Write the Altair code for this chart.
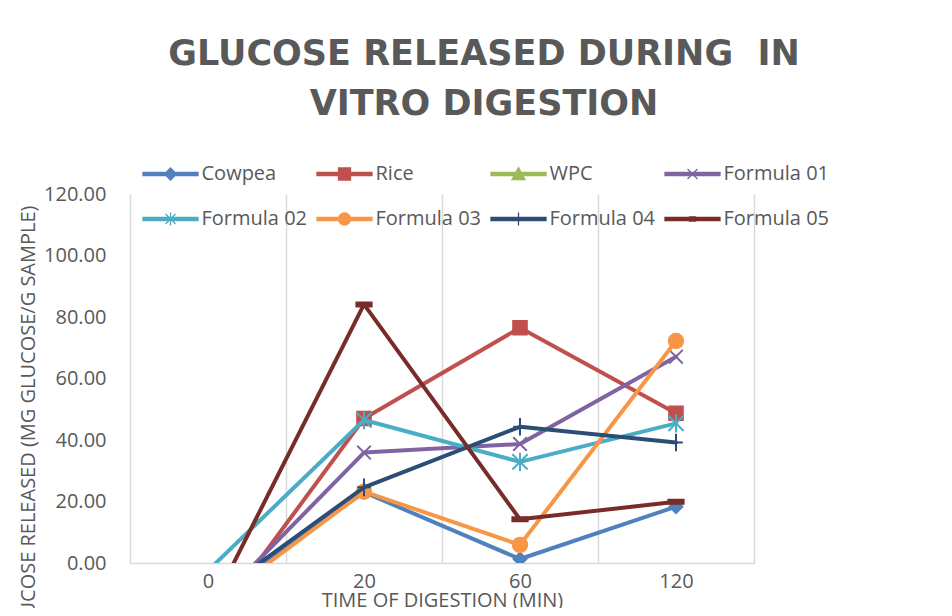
import altair as alt
import pandas as pd

# ---- data ----
times = [0, 20, 60, 120]
series = ["Cowpea", "Rice", "WPC", "Formula 01", "Formula 02", "Formula 03", "Formula 04", "Formula 05"]
cowpea = [-12.5, 23.0, 1.3, 18.3]
rice = [-21.7, 47.0, 76.5, 48.7]
wpc = [None, None, None, None]          # not visible in the chart
formula01 = [-15.8, 35.9, 38.7, 67.1]
formula02 = [-2.5, 46.5, 32.9, 45.4]
formula03 = [-14.7, 23.2, 5.9, 72.2]
formula04 = [-12.2, 24.6, 44.3, 39.2]
formula05 = [-16.6, 84.1, 14.2, 19.9]
y_ticks = [0, 20, 40, 60, 80, 100, 120]

values = [cowpea, rice, wpc, formula01, formula02, formula03, formula04, formula05]

colors = ["#4F81BD", "#C0504D", "#9BBB59", "#8064A2", "#4BACC6", "#F79646", "#2C4D75", "#772C2A"]

# marker shapes (unit paths) for the plotted points
marker_paths = [
    "M0,-0.8L0.8,0L0,0.8L-0.8,0Z",
    "M-0.85,-0.85H0.85V0.85H-0.85Z",
    "M0,-0.95L0.95,0.7H-0.95Z",
    "M-0.85,-0.85L0.85,0.85M-0.85,0.85L0.85,-0.85",
    "M-0.95,-0.95L0.95,0.95M-0.95,0.95L0.95,-0.95M0,-1.15V1.15",
    "M0.9,0A0.9,0.9,0,1,1,-0.9,0A0.9,0.9,0,1,1,0.9,0Z",
    "M0,-1.1V1.1M-0.85,0H0.85",
    "M-0.95,-0.25H0.95V0.25H-0.95Z",
]

# legend symbols: line segment + marker
seg = "M-2.75,-0.15H2.75V0.15H-2.75Z"
legend_paths = [
    seg + "M0,-0.6L0.6,0L0,0.6L-0.6,0Z",
    seg + "M-0.6,-0.6H0.6V0.6H-0.6Z",
    seg + "M0,-0.65L0.65,0.55H-0.65Z",
    seg + "M-0.5,-0.5L0.5,0.5M-0.5,0.5L0.5,-0.5",
    seg + "M-0.5,-0.5L0.5,0.5M-0.5,0.5L0.5,-0.5M0,-0.65V0.65",
    seg + "M0.6,0A0.6,0.6,0,1,1,-0.6,0A0.6,0.6,0,1,1,0.6,0Z",
    seg + "M0,-0.65V0.65",
    seg + "M-0.3,-0.2H0.3V0.2H-0.3Z",
]

rows = []
for s, vals in zip(series, values):
    for i, (t, v) in enumerate(zip(times, vals)):
        rows.append({"s": s, "t": t, "v": v, "idx": i})
df = pd.DataFrame(rows)

FONT = "Open Sans"
GREY = "#595959"
LINE = "#D9D9D9"

x_enc = alt.X(
    "t:O",
    title="TIME OF DIGESTION (MIN)",
    bandPosition=0.5,
    scale=alt.Scale(type="band", paddingInner=0, paddingOuter=0),
    axis=alt.Axis(
        labelAngle=0, labelFont=FONT, labelFontSize=20, labelColor=GREY, labelPadding=8,
        ticks=False, domainColor=LINE, domainWidth=1.5,
        grid=True, gridColor=LINE, gridWidth=1.5, tickBand="extent",
        titleFont=FONT, titleFontSize=20, titleFontWeight="normal", titleColor=GREY,
        titleY=37, titleBaseline="middle",
    ),
)
y_enc = alt.Y(
    "v:Q",
    title="GLUCOSE RELEASED (MG GLUCOSE/G SAMPLE)",
    scale=alt.Scale(domain=[0, 120], nice=False, zero=False),
    axis=alt.Axis(
        values=y_ticks, format=".2f", grid=False, domain=False, ticks=False,
        labelPadding=24, labelFont=FONT, labelFontSize=20, labelColor=GREY,
        titleFont=FONT, titleFontSize=20, titleFontWeight="normal", titleColor=GREY,
        titleAngle=270, titleAlign="right", titleBaseline="middle", titleX=-102, titleY=11,
    ),
)

legend = alt.Legend(
    title=None, orient="none", legendX=13, legendY=-31, columns=4,
    direction="horizontal",
    columnPadding=6, rowPadding=24, padding=0,
    labelFont=FONT, labelFontSize=20, labelColor=GREY,
    symbolSize=400, symbolOffset=16.5, labelOffset=20, symbolStrokeWidth=1.3,
    symbolOpacity=1,
)

layers = []
for name, path, col in zip(series, marker_paths, colors):
    sub = alt.Chart(df).transform_filter(alt.datum.s == name)
    layers.append(
        sub.mark_line(strokeWidth=4, clip=True, strokeCap="round", strokeJoin="round", color=col)
        .encode(x=x_enc, y=y_enc, order=alt.Order("idx:Q"))
    )
    layers.append(
        sub.transform_filter(alt.datum.v >= 0)
        .mark_point(filled=True, shape=path, size=256, strokeWidth=2, opacity=1,
                    clip=True, fill=col, stroke=col)
        .encode(x=x_enc, y=y_enc)
    )

# layer without marks that carries the legend (line + marker symbols)
legend_layer = (
    alt.Chart(df)
    .transform_filter("false")
    .mark_point(filled=True)
    .encode(
        x=x_enc, y=y_enc,
        fill=alt.Fill("s:N", scale=alt.Scale(domain=series, range=colors), legend=legend),
        stroke=alt.Stroke("s:N", scale=alt.Scale(domain=series, range=colors), legend=legend),
        shape=alt.Shape("s:N", scale=alt.Scale(domain=series, range=legend_paths), legend=legend),
    )
)

chart = alt.layer(*layers, legend_layer).properties(
    width=624, height=369,
    padding={"left": 122, "top": 186, "right": 180, "bottom": 45},
    autosize=alt.AutoSizeParams(type="none"),
    background="white",
    title=alt.TitleParams(
        text=["GLUCOSE RELEASED DURING \u00a0IN", "VITRO DIGESTION"],
        font="DejaVu Sans", fontSize=35, fontWeight="bold", color=GREY,
        anchor="middle", frame="group", dx=42, lineHeight=50,
        baseline="bottom", offset=6,
    ),
).configure_view(stroke=None)

chart.save("out.html", embed_options={"renderer": "svg", "actions": False})
